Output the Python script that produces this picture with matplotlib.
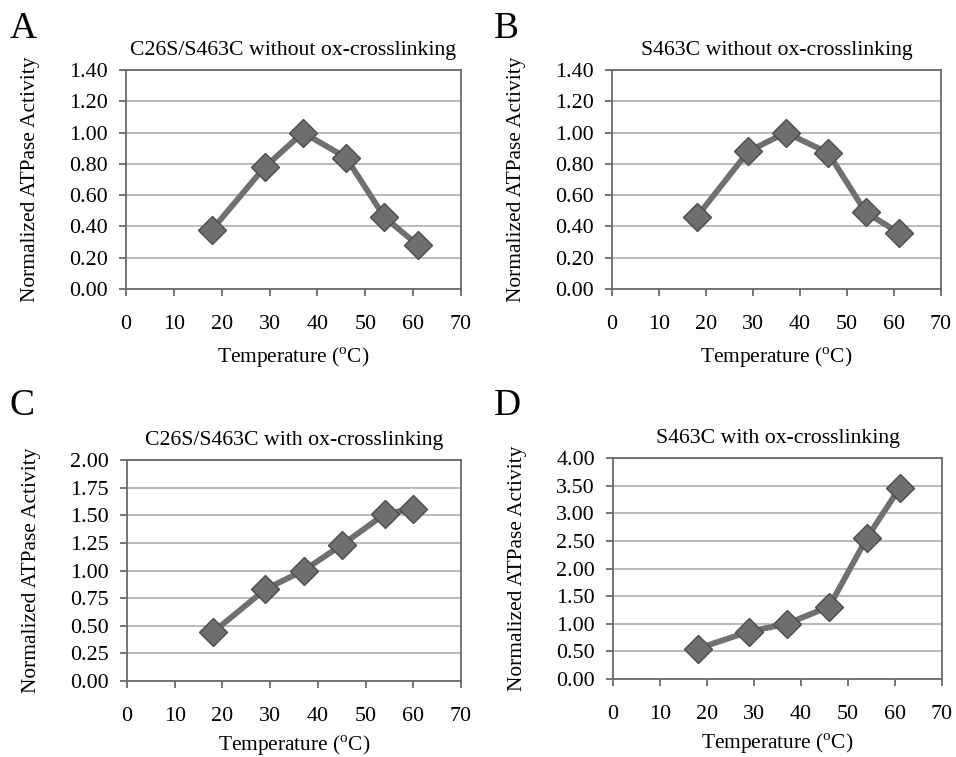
import matplotlib
matplotlib.use("Agg")
import matplotlib.pyplot as plt

plt.rcParams['font.family'] = ['Liberation Serif', 'DejaVu Serif']
plt.rcParams['mathtext.fontset'] = 'custom'
plt.rcParams['mathtext.rm'] = 'Liberation Serif'

# data
temp_a = [18, 29, 37, 46, 54, 61]
act_a = [0.38, 0.78, 1.00, 0.84, 0.46, 0.28]
temp_b = [18, 29, 37, 46, 54, 61]
act_b = [0.46, 0.88, 1.00, 0.87, 0.49, 0.36]
temp_c = [18, 29, 37, 45, 54, 60]
act_c = [0.44, 0.83, 1.00, 1.23, 1.51, 1.56]
temp_d = [18, 29, 37, 46, 54, 61]
act_d = [0.55, 0.86, 1.00, 1.31, 2.55, 3.46]

letters = ['A', 'B', 'C', 'D']
titles = ['C26S/S463C without ox-crosslinking', 'S463C without ox-crosslinking',
          'C26S/S463C with ox-crosslinking', 'S463C with ox-crosslinking']
y_ticks = [[0, 0.2, 0.4, 0.6, 0.8, 1.0, 1.2, 1.4],
           [0, 0.2, 0.4, 0.6, 0.8, 1.0, 1.2, 1.4],
           [0, 0.25, 0.5, 0.75, 1.0, 1.25, 1.5, 1.75, 2.0],
           [0, 0.5, 1.0, 1.5, 2.0, 2.5, 3.0, 3.5, 4.0]]
x_ticks = [0, 10, 20, 30, 40, 50, 60, 70]

series = [(temp_a, act_a), (temp_b, act_b), (temp_c, act_c), (temp_d, act_d)]

# axes boxes in figure fractions
boxes = [[0.1318, 0.6182, 0.3504, 0.2893],
         [0.6402, 0.6182, 0.3441, 0.2893],
         [0.1328, 0.1004, 0.3494, 0.2919],
         [0.6412, 0.1030, 0.3441, 0.2919]]
letter_pos = [(0.010, 0.985), (0.517, 0.985), (0.010, 0.487), (0.517, 0.487)]
xlabel_pad = [8, 8, 5, 5]

fig = plt.figure(figsize=(9.56, 7.57), dpi=100)

for i in range(4):
    ax = fig.add_axes(boxes[i])
    x, y = series[i]
    ax.plot(x, y, color='#707070', lw=4.2, marker='D', ms=14,
            mfc='#6e6e6e', mec='#4c4c4c', mew=1.0, zorder=3)
    ax.set_xlim(0, 70)
    ax.set_ylim(y_ticks[i][0], y_ticks[i][-1])
    ax.set_xticks(x_ticks)
    ax.set_yticks(y_ticks[i])
    ax.set_yticklabels(['%.2f' % v for v in y_ticks[i]])
    ax.yaxis.grid(True, color='#b4b4b4', lw=1.3)
    ax.set_axisbelow(True)
    for s in ax.spines.values():
        s.set_color('#6a6a6a')
        s.set_linewidth(1.3)
    ax.tick_params(axis='x', direction='out', length=5, width=1.3, color='#6a6a6a',
                   labelsize=15.8, pad=14)
    ax.tick_params(axis='y', direction='out', length=5, width=1.3, color='#6a6a6a',
                   labelsize=15.8, pad=8)
    ax.set_title(titles[i], fontsize=15.7, pad=11)
    ax.set_xlabel(r'Temperature ($^{\mathrm{o}}$C)', fontsize=15.4, labelpad=xlabel_pad[i])
    ax.set_ylabel('Normalized ATPase Activity', fontsize=15.4, labelpad=21)
    fig.text(letter_pos[i][0], letter_pos[i][1], letters[i], fontsize=27,
             ha='left', va='top')

fig.savefig('out.png', dpi=100, facecolor='white')
